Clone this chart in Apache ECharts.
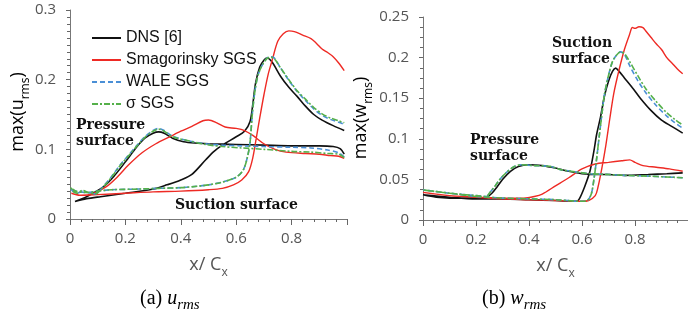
<!DOCTYPE html>
<html><head><meta charset="utf-8">
<script src="https://cdn.jsdelivr.net/npm/echarts@6/dist/echarts.min.js"></script>
<style>html,body{margin:0;padding:0;background:#fff}#c{width:688px;height:323px}</style>
</head><body><div id="c"></div>
<script>
// ---- Data: (a) max(u_rms) ----
const seriesNames = ['DNS [6]', 'Smagorinsky SGS', 'WALE SGS', 'σ SGS'];
const xTicks = [0, 0.2, 0.4, 0.6, 0.8];
const uTicks = [0, 0.1, 0.2, 0.3];
const wTicks = [0, 0.05, 0.1, 0.15, 0.2, 0.25];

const uDnsP = [[0.018,0.025],[0.06,0.032],[0.12,0.046],[0.16,0.062],[0.2,0.082],[0.24,0.103],[0.27,0.116],[0.30,0.123],[0.32,0.125],[0.34,0.123],[0.37,0.116],[0.41,0.111],[0.45,0.109],[0.5,0.108],[0.6,0.107],[0.7,0.106],[0.8,0.105],[0.9,0.105],[0.95,0.104],[0.975,0.101],[0.99,0.093]];
const uDnsS = [[0.018,0.025],[0.06,0.029],[0.11,0.032],[0.2,0.037],[0.3,0.043],[0.35,0.049],[0.4,0.056],[0.44,0.064],[0.49,0.085],[0.52,0.097],[0.55,0.106],[0.6,0.118],[0.63,0.126],[0.65,0.14],[0.66,0.165],[0.67,0.195],[0.685,0.218],[0.7,0.228],[0.712,0.231],[0.73,0.225],[0.76,0.205],[0.79,0.189],[0.82,0.176],[0.85,0.162],[0.88,0.15],[0.91,0.142],[0.95,0.134],[0.99,0.127]];
const uSmagP = [[0.005,0.037],[0.04,0.034],[0.08,0.036],[0.13,0.046],[0.17,0.06],[0.21,0.077],[0.26,0.095],[0.31,0.108],[0.36,0.118],[0.4,0.126],[0.44,0.133],[0.48,0.141],[0.5,0.142],[0.53,0.138],[0.56,0.132],[0.6,0.13],[0.63,0.127],[0.66,0.12],[0.7,0.108],[0.74,0.1],[0.78,0.096],[0.85,0.094],[0.9,0.093],[0.94,0.091],[0.97,0.09],[0.99,0.087]];
const uSmagS = [[0.005,0.037],[0.03,0.034],[0.1,0.035],[0.2,0.037],[0.3,0.039],[0.4,0.04],[0.5,0.042],[0.55,0.044],[0.59,0.049],[0.62,0.056],[0.645,0.068],[0.66,0.088],[0.672,0.115],[0.685,0.145],[0.7,0.178],[0.715,0.207],[0.73,0.228],[0.75,0.255],[0.77,0.266],[0.79,0.27],[0.81,0.269],[0.84,0.264],[0.87,0.259],[0.89,0.252],[0.91,0.244],[0.93,0.239],[0.95,0.233],[0.97,0.224],[0.99,0.213]];
const uWaleP = [[0.003,0.044],[0.01,0.04],[0.025,0.037],[0.045,0.04],[0.065,0.038],[0.09,0.036],[0.12,0.047],[0.15,0.061],[0.18,0.077],[0.21,0.091],[0.24,0.105],[0.27,0.118],[0.3,0.127],[0.32,0.13],[0.34,0.127],[0.37,0.119],[0.42,0.113],[0.49,0.108],[0.55,0.106],[0.62,0.105],[0.7,0.104],[0.8,0.103],[0.87,0.102],[0.93,0.099],[0.97,0.095],[0.99,0.089]];
const uWaleS = [[0.003,0.044],[0.02,0.04],[0.06,0.038],[0.1,0.04],[0.15,0.042],[0.25,0.043],[0.32,0.044],[0.4,0.045],[0.46,0.047],[0.5,0.049],[0.55,0.053],[0.6,0.06],[0.625,0.07],[0.64,0.088],[0.65,0.11],[0.658,0.15],[0.668,0.185],[0.68,0.208],[0.7,0.225],[0.72,0.233],[0.735,0.232],[0.76,0.217],[0.79,0.199],[0.82,0.183],[0.85,0.17],[0.88,0.158],[0.91,0.149],[0.94,0.143],[0.97,0.139],[0.99,0.136]];
const uSigP = [[0.003,0.045],[0.01,0.04],[0.025,0.037],[0.045,0.041],[0.065,0.038],[0.09,0.036],[0.12,0.046],[0.15,0.06],[0.18,0.076],[0.21,0.09],[0.24,0.104],[0.27,0.117],[0.3,0.126],[0.32,0.129],[0.34,0.126],[0.37,0.118],[0.42,0.113],[0.49,0.107],[0.55,0.104],[0.62,0.102],[0.7,0.1],[0.8,0.097],[0.87,0.096],[0.93,0.094],[0.97,0.093],[0.99,0.088]];
const uSigS = [[0.003,0.045],[0.02,0.04],[0.06,0.038],[0.1,0.04],[0.15,0.042],[0.25,0.043],[0.32,0.044],[0.4,0.045],[0.46,0.047],[0.5,0.049],[0.55,0.053],[0.6,0.06],[0.625,0.07],[0.64,0.088],[0.65,0.11],[0.658,0.15],[0.668,0.185],[0.68,0.208],[0.7,0.225],[0.72,0.232],[0.735,0.231],[0.76,0.217],[0.79,0.2],[0.82,0.184],[0.85,0.172],[0.88,0.16],[0.91,0.151],[0.94,0.145],[0.97,0.141],[0.99,0.138]];

// ---- Data: (b) max(w_rms) ----
const wDnsP = [[0.0,0.031],[0.05,0.028],[0.1,0.027],[0.2,0.027],[0.24,0.028],[0.26,0.033],[0.28,0.041],[0.3,0.05],[0.33,0.06],[0.36,0.066],[0.4,0.068],[0.45,0.067],[0.5,0.064],[0.55,0.06],[0.6,0.057],[0.65,0.056],[0.7,0.056],[0.76,0.055],[0.85,0.056],[0.92,0.057],[0.98,0.058]];
const wDnsS = [[0.0,0.031],[0.1,0.028],[0.2,0.026],[0.3,0.026],[0.4,0.025],[0.5,0.024],[0.58,0.023],[0.59,0.026],[0.61,0.041],[0.63,0.06],[0.645,0.085],[0.655,0.105],[0.67,0.127],[0.685,0.153],[0.7,0.171],[0.715,0.183],[0.727,0.187],[0.74,0.183],[0.76,0.175],[0.79,0.163],[0.82,0.15],[0.86,0.135],[0.9,0.123],[0.94,0.115],[0.98,0.107]];
const wSmagP = [[0.0,0.034],[0.1,0.03],[0.2,0.028],[0.3,0.027],[0.38,0.027],[0.42,0.029],[0.45,0.032],[0.5,0.042],[0.55,0.052],[0.6,0.063],[0.65,0.069],[0.7,0.071],[0.75,0.073],[0.78,0.074],[0.8,0.071],[0.83,0.067],[0.88,0.065],[0.93,0.063],[0.98,0.06]];
const wSmagS = [[0.0,0.034],[0.1,0.03],[0.2,0.028],[0.3,0.026],[0.4,0.025],[0.5,0.024],[0.6,0.023],[0.625,0.024],[0.65,0.03],[0.66,0.04],[0.675,0.064],[0.69,0.092],[0.705,0.125],[0.72,0.156],[0.74,0.185],[0.76,0.21],[0.78,0.229],[0.79,0.237],[0.8,0.236],[0.815,0.238],[0.83,0.237],[0.84,0.233],[0.86,0.225],[0.88,0.217],[0.9,0.21],[0.92,0.2],[0.94,0.193],[0.96,0.186],[0.98,0.18]];
const wWaleP = [[0.0,0.037],[0.1,0.033],[0.2,0.03],[0.24,0.029],[0.25,0.033],[0.27,0.041],[0.29,0.05],[0.31,0.057],[0.34,0.065],[0.37,0.068],[0.42,0.067],[0.48,0.066],[0.52,0.062],[0.58,0.059],[0.63,0.057],[0.7,0.056],[0.76,0.055],[0.85,0.054],[0.92,0.053],[0.98,0.052]];
const wWaleS = [[0.0,0.037],[0.1,0.033],[0.2,0.029],[0.3,0.027],[0.4,0.026],[0.5,0.025],[0.6,0.023],[0.62,0.024],[0.635,0.032],[0.645,0.05],[0.655,0.075],[0.665,0.103],[0.675,0.13],[0.685,0.155],[0.7,0.178],[0.715,0.195],[0.73,0.203],[0.745,0.207],[0.76,0.204],[0.78,0.19],[0.81,0.172],[0.84,0.157],[0.88,0.141],[0.92,0.128],[0.95,0.12],[0.98,0.113]];
const wSigP = [[0.0,0.037],[0.1,0.033],[0.2,0.03],[0.24,0.029],[0.25,0.033],[0.27,0.041],[0.29,0.05],[0.31,0.057],[0.34,0.065],[0.37,0.068],[0.42,0.067],[0.48,0.066],[0.52,0.062],[0.58,0.059],[0.63,0.057],[0.7,0.056],[0.76,0.055],[0.85,0.054],[0.92,0.053],[0.98,0.052]];
const wSigS = [[0.0,0.037],[0.1,0.033],[0.2,0.029],[0.3,0.027],[0.4,0.026],[0.5,0.025],[0.6,0.023],[0.62,0.024],[0.635,0.032],[0.645,0.05],[0.655,0.075],[0.665,0.103],[0.675,0.13],[0.685,0.155],[0.7,0.178],[0.715,0.195],[0.73,0.203],[0.745,0.207],[0.76,0.205],[0.78,0.195],[0.81,0.178],[0.84,0.162],[0.88,0.146],[0.92,0.132],[0.95,0.124],[0.98,0.117]];

// ---- build ----
function loop(p, s) { return p.slice().reverse().concat(s.slice(1)); }
const colors = ['#111111', '#ee2a24', '#4a8fd6', '#55b04a'];
const dashes = ['solid', 'solid', [5, 3], [6, 2, 2, 2]];
const widths = [1.6, 1.4, 1.6, 1.6];
const uData = [loop(uDnsP,uDnsS), loop(uSmagP,uSmagS), loop(uWaleP,uWaleS), loop(uSigP,uSigS)];
const wData = [loop(wDnsP,wDnsS), loop(wSmagP,wSmagS), loop(wWaleP,wWaleS), loop(wSigP,wSigS)];

const tickFont = {color:'#555', fontSize:15, fontFamily:'Open Sans'};
const nameRich = {
  a:{fontSize:18, color:'#555', fontFamily:'Open Sans', lineHeight:28},
  s:{fontSize:12, color:'#555', fontFamily:'Open Sans', lineHeight:28, verticalAlign:'bottom'}
};
function xAxis(gi){
  return {type:'value', gridIndex:gi, min:0, max:1, interval:0.2,
    axisLine:{show:true, lineStyle:{color:'#777', width:1}},
    axisTick:{show:true, inside:false, length:6, lineStyle:{color:'#666'}},
    minorTick:{show:true, splitNumber:5, length:3, lineStyle:{color:'#666'}},
    splitLine:{show:false},
    axisLabel:Object.assign({margin:12, showMaxLabel:false, formatter:v=>xTicks.includes(+v.toFixed(2))?String(+v.toFixed(2)):''}, tickFont),
    name:'{a|x/ C}{s|x}', nameLocation:'middle', nameGap:32, nameTextStyle:{rich:nameRich}};
}
function yAxis(gi, max, interval, minor){
  return {type:'value', gridIndex:gi, min:0, max:max, interval:interval,
    axisLine:{show:true, lineStyle:{color:'#777', width:1}},
    axisTick:{show:true, inside:false, length:4, lineStyle:{color:'#666'}},
    minorTick:{show:true, splitNumber:minor, length:3, lineStyle:{color:'#666'}},
    splitLine:{show:false},
    axisLabel:Object.assign({margin:14, formatter:v=>String(+v.toFixed(2))}, tickFont)};
}
const series = [];
for (let i=0;i<4;i++){
  series.push({name:seriesNames[i], type:'line', xAxisIndex:0, yAxisIndex:0, data:uData[i], showSymbol:false, symbol:'none', smooth:0.3,
    lineStyle:{color:colors[i], width:widths[i], type:dashes[i]}, itemStyle:{color:colors[i]}, z:2+i, animation:false});
}
for (let i=0;i<4;i++){
  series.push({name:seriesNames[i], type:'line', xAxisIndex:1, yAxisIndex:1, data:wData[i], showSymbol:false, symbol:'none', smooth:0.3,
    lineStyle:{color:colors[i], width:widths[i], type:dashes[i]}, itemStyle:{color:colors[i]}, z:2+i, animation:false});
}
const annFont = {fontFamily:'DejaVu Serif', fontWeight:'bold', fontSize:14, fill:'#111', lineHeight:16};
const capRich = {
  n:{fontFamily:'Liberation Serif', fontSize:20, color:'#222'},
  i:{fontFamily:'Liberation Serif', fontSize:20, fontStyle:'italic', color:'#222'},
  s:{fontFamily:'Liberation Serif', fontSize:15, fontStyle:'italic', color:'#222', verticalAlign:'bottom', lineHeight:28}
};
const yNameRich = {
  a:{fontSize:18, color:'#555', fontFamily:'Open Sans', lineHeight:28},
  s:{fontSize:12, color:'#555', fontFamily:'Open Sans', lineHeight:28, verticalAlign:'bottom'}
};
const chart = echarts.init(document.getElementById('c'), null, {renderer:'canvas'});
chart.setOption({
  animation:false,
  backgroundColor:'#fff',
  grid:[{left:70, right:341, top:10, bottom:104}, {left:423, right:-5, top:17, bottom:103}],
  xAxis:[xAxis(0), xAxis(1)],
  yAxis:[yAxis(0,0.3,0.1,10), yAxis(1,0.25,0.05,4)],
  legend:{show:true, orient:'vertical', left:86, top:25, itemWidth:29, itemHeight:14, itemGap:6,
    itemStyle:{opacity:0, borderWidth:0},
    data:seriesNames, textStyle:{fontFamily:'Liberation Sans', fontSize:16, color:'#111'}, selectedMode:false},
  series:series,
  graphic:[
    {type:'text', x:18, y:112, rotation:Math.PI/2, style:{text:'{a|max(u}{s|rms}{a|)}', rich:yNameRich, align:'center', verticalAlign:'middle'}},
    {type:'text', x:361, y:118, rotation:Math.PI/2, style:{text:'{a|max(w}{s|rms}{a|)}', rich:yNameRich, align:'center', verticalAlign:'middle'}},
    {type:'text', left:76, top:117, style:Object.assign({text:'Pressure\nsurface'}, annFont)},
    {type:'text', left:175, top:197, style:Object.assign({text:'Suction surface'}, annFont)},
    {type:'text', left:552, top:35, style:Object.assign({text:'Suction\nsurface'}, annFont)},
    {type:'text', left:470, top:132, style:Object.assign({text:'Pressure\nsurface'}, annFont)},
    {type:'text', left:140, top:289, style:{text:'{n|(a) }{i|u}{s|rms}', rich:capRich}},
    {type:'text', left:482, top:289, style:{text:'{n|(b) }{i|w}{s|rms}', rich:capRich}}
  ]
});
</script></body></html>
